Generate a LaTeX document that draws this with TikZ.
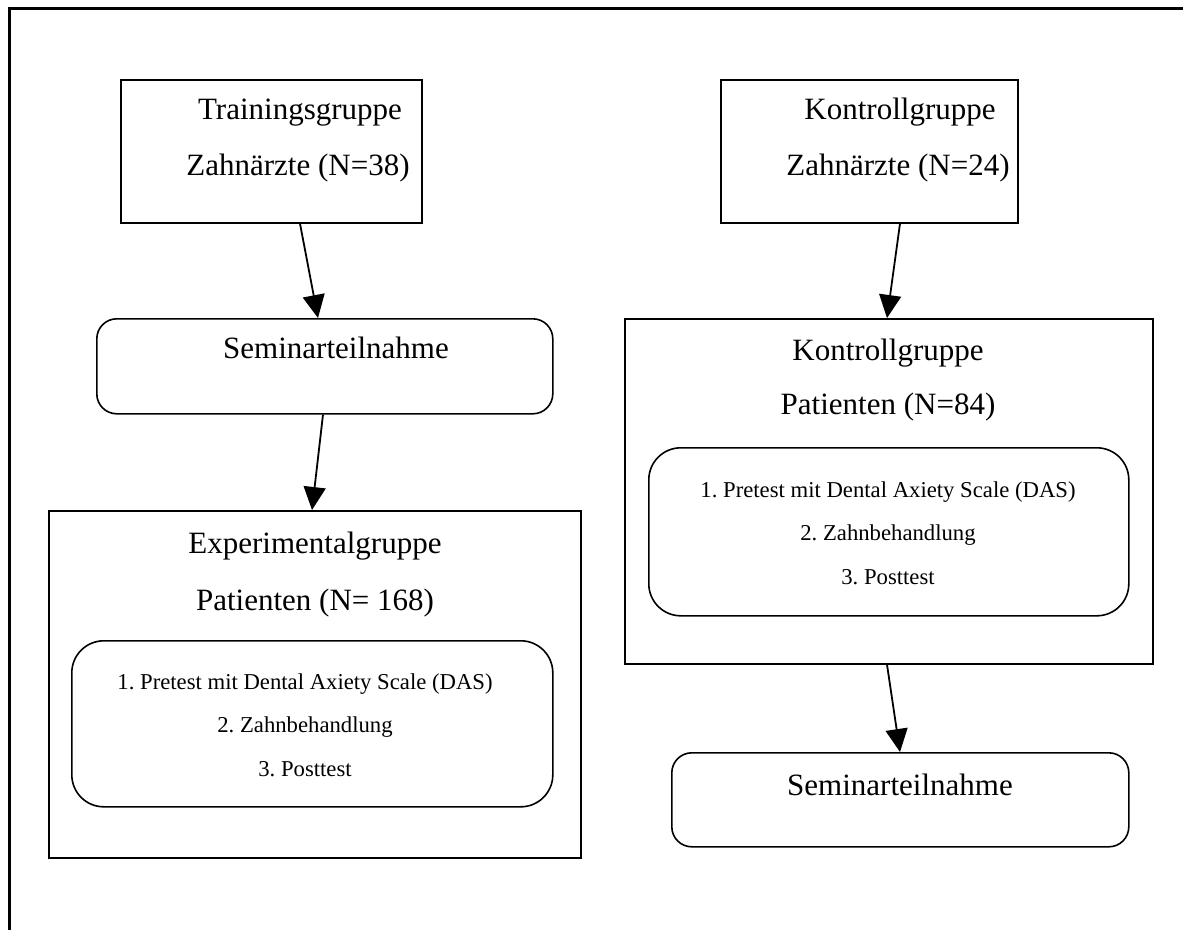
\documentclass[tikz,border=0pt]{standalone}
\usepackage{fontspec}
\setmainfont{Liberation Serif}
\usetikzlibrary{arrows.meta}
\frenchspacing
\begin{document}
\begin{tikzpicture}[x=1pt,y=-1pt,
  box/.style={draw, line width=1.6pt, rectangle, anchor=north west, inner sep=0pt},
  rbox/.style={box, rounded corners=20pt},
  ibox/.style={box, rounded corners=32pt},
  big/.style={font=\fontsize{31}{36}\selectfont, anchor=base, inner sep=0pt},
  small/.style={font=\fontsize{22.7}{27}\selectfont\frenchspacing, anchor=base, inner sep=0pt},
  conn/.style={-{Triangle[length=23pt,width=22pt]}, line width=1.8pt}
]
\useasboundingbox (0,0) rectangle (1183,930);
% outer frame (top and left only)
\coordinate (fa) at (1183,8);
\coordinate (fb) at (9,8);
\coordinate (fc) at (9,930);
\draw[line width=3pt] (fa) -- (fb) -- (fc);

% left column
\node[box, minimum width=301pt, minimum height=143pt] (tz) at (120,79) {};
\node[big] (tzt1) at (300,119) {Trainingsgruppe};
\node[big] (tzt2) at (298,175) {Zahnärzte (N=38)};

\node[rbox, minimum width=456pt, minimum height=95pt] (sl) at (96,318) {};
\node[big] (slt) at (336,358) {Seminarteilnahme};

\node[box, minimum width=532pt, minimum height=347pt] (eg) at (48,510) {};
\node[big] (egt1) at (315,553) {Experimentalgruppe};
\node[big] (egt2) at (315,610) {Patienten (N= 168)};
\node[ibox, minimum width=481pt, minimum height=166pt] (ei) at (71,640) {};
\node[small] (eit1) at (305,689) {1. Pretest mit Dental Axiety Scale (DAS)};
\node[small] (eit2) at (305,732) {2. Zahnbehandlung};
\node[small] (eit3) at (305,776) {3. Posttest};

% right column
\node[box, minimum width=297pt, minimum height=143pt] (kz) at (720,79) {};
\node[big] (kzt1) at (900,119) {Kontrollgruppe};
\node[big] (kzt2) at (898,175) {Zahnärzte (N=24)};

\node[box, minimum width=528pt, minimum height=345pt] (kp) at (624,318) {};
\node[big] (kpt1) at (888,360) {Kontrollgruppe};
\node[big] (kpt2) at (888,414) {Patienten (N=84)};
\node[ibox, minimum width=480pt, minimum height=168pt] (ki) at (648,447) {};
\node[small] (kit1) at (888,497) {1. Pretest mit Dental Axiety Scale (DAS)};
\node[small] (kit2) at (888,540) {2. Zahnbehandlung};
\node[small] (kit3) at (888,584) {3. Posttest};

\node[rbox, minimum width=457pt, minimum height=94pt] (sr) at (671,752) {};
\node[big] (srt) at (900,795) {Seminarteilnahme};

% connectors
\draw[conn] ([xshift=180pt]tz.south west) -- ([xshift=222pt]sl.north west);
\draw[conn] ([xshift=227pt]sl.south west) -- ([xshift=264pt]eg.north west);
\draw[conn] ([xshift=180pt]kz.south west) -- ([xshift=263pt]kp.north west);
\draw[conn] ([xshift=263pt]kp.south west) -- ([xshift=229pt]sr.north west);
\end{tikzpicture}
\end{document}
